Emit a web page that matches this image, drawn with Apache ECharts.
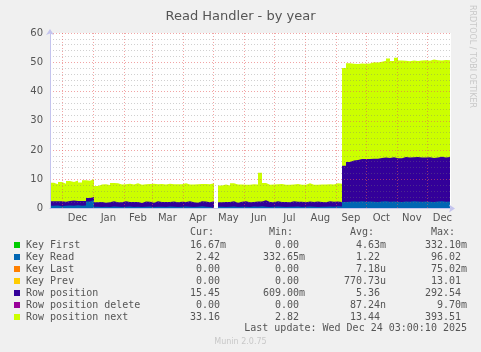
<!DOCTYPE html>
<html>
<head>
<meta charset="utf-8">
<title>Read Handler - by year</title>
<script src="https://cdn.jsdelivr.net/npm/echarts@6/dist/echarts.min.js"></script>
<style>
  html, body { margin: 0; padding: 0; background: #f0f0f0; }
  #chart { width: 481px; height: 352px; }
</style>
</head>
<body>
<div id="chart"></div>
<script>
// munin yearly graph: 400 days ending Wed Dec 24 03:00 2025, one sample every 4 days
var DAY = 86400000
var START = Date.UTC(2024, 10, 19, 3, 0, 0)
var STEP = 4

var monthNames = ['Jan', 'Feb', 'Mar', 'Apr', 'May', 'Jun', 'Jul', 'Aug', 'Sep', 'Oct', 'Nov', 'Dec']
var monthStarts = ['2024-12-01', '2025-01-01', '2025-02-01', '2025-03-01', '2025-04-01', '2025-05-01',
  '2025-06-01', '2025-07-01', '2025-08-01', '2025-09-01', '2025-10-01', '2025-11-01', '2025-12-01', '2026-01-01']
var yTicks = [0, 10, 20, 30, 40, 50, 60]

var keyRead = [
  0.9, 1.0, 0.8, 0.9, 1.0, 0.9, 1.1, 0.9, 1.0, 2.4, 2.9,
  0.6, 0.5, 0.6, 0.5, 0.7, 0.6, 0.5, 0.6, 0.7, 0.5, 0.6, 0.5, 0.6, 0.7, 0.5, 0.6, 0.6, 0.5, 0.7, 0.6,
  0.5, 0.6, 0.7, 0.6, 0.5, 0.6, 0.8, 0.6, 0.5, 0.6,
  null,
  0.6, 0.5, 0.6, 0.7, 0.5, 0.6, 0.6, 0.5, 0.7, 0.6, 0.8, 0.6, 0.5, 0.6, 0.7, 0.6, 0.5, 0.6, 0.6, 0.7,
  0.5, 0.6, 0.7, 0.6, 0.5, 0.6, 0.6, 0.7, 0.6, 0.8, 0.7,
  2.2, 2.3, 2.4, 2.3, 2.5, 2.3, 2.4, 2.3, 2.2, 2.4, 2.5, 2.3, 2.4, 2.3, 2.2, 2.4, 2.3, 2.5, 2.4, 2.3,
  2.4, 2.3, 2.2, 2.4, 2.5, 2.3, 2.4, 2.4
]
var rowPosition = [
  1.6, 1.5, 1.7, 1.4, 1.6, 1.8, 1.5, 1.7, 1.6, 1.2, 1.0,
  1.5, 1.7, 1.4, 1.6, 1.8, 1.5, 1.6, 1.9, 1.5, 1.7, 1.6, 1.4, 1.8, 1.6, 1.5, 1.9, 1.6, 1.7, 1.5, 1.8,
  1.6, 1.7, 1.5, 1.9, 1.6, 1.4, 1.7, 1.8, 1.6, 1.9,
  null,
  1.5, 1.7, 1.6, 1.8, 1.5, 1.7, 1.9, 1.6, 1.5, 1.8, 1.6, 2.2, 1.7, 1.5, 1.8, 1.6, 1.7, 1.5, 1.9, 1.6,
  1.8, 1.5, 1.7, 1.6, 1.9, 1.6, 1.5, 1.8, 1.7, 1.6, 1.5,
  12.4, 13.6, 14.0, 14.3, 14.4, 14.6, 14.5, 14.7, 14.8, 14.9, 14.9, 15.0, 15.1, 14.9, 15.0, 15.2, 15.1, 15.0, 15.2, 15.1,
  15.0, 15.2, 15.1, 15.0, 15.2, 15.1, 15.2, 15.0
]
var rowPositionNext = [
  6.3, 5.8, 6.6, 6.2, 6.8, 6.4, 7.0, 6.3, 7.1, 5.9, 6.1,
  5.6, 6.0, 6.3, 5.9, 6.2, 6.5, 6.1, 5.8, 6.3, 6.0, 6.4, 6.2, 5.9, 6.1, 6.5, 5.8, 6.2, 6.0, 6.3, 5.9,
  6.2, 6.0, 6.4, 5.7, 6.1, 6.3, 5.9, 6.0, 6.2, 6.1,
  null,
  5.8, 6.0, 5.7, 6.1, 6.2, 5.9, 5.6, 6.0, 6.1, 5.8, 9.8, 5.9, 5.9, 6.1, 5.8, 6.2, 5.9, 6.0, 5.7, 6.1,
  5.8, 6.0, 6.2, 5.9, 5.7, 6.0, 6.1, 5.8, 5.9, 6.2, 6.3,
  33.4, 33.8, 33.1, 32.8, 32.7, 32.6, 32.7, 33.0, 32.9, 32.9, 33.1, 34.0, 32.9, 34.3, 33.4, 32.9, 32.9, 33.1, 32.8, 33.2,
  33.3, 33.0, 33.6, 33.3, 32.9, 33.4, 33.1, 33.5
]

// legend table (rrdtool GPRINT values)
var legendNames = ['Key First', 'Key Read', 'Key Last', 'Key Prev', 'Row position', 'Row position delete', 'Row position next']
var legendColors = ['#00cc00', '#0066b3', '#ff8000', '#ffcc00', '#330099', '#990099', '#ccff00']
var statHeaders = ['Cur:', 'Min:', 'Avg:', 'Max:']
var curVals = ['16.67m', '2.42', '0.00', '0.00', '15.45', '0.00', '33.16']
var minVals = ['0.00', '332.65m', '0.00', '0.00', '609.00m', '0.00', '2.82']
var avgVals = ['4.63m', '1.22', '7.18u', '770.73u', '5.36', '87.24n', '13.44']
var maxVals = ['332.10m', '96.02', '75.02m', '13.01', '292.54', '9.70m', '393.51']

function dayOf(iso) {
  var p = iso.split('-')
  return (Date.UTC(+p[0], +p[1] - 1, +p[2]) - START) / DAY
}
var gridDays = monthStarts.map(dayOf)
var labelDays = gridDays.slice(0, -1).map(function(d, i) { return (d + gridDays[i + 1]) / 2 })

// stacking by hand: both axes are value axes, so each area is drawn from 0 to its running total
function stacked(layers) {
  return layers[0].map(function(v, i) {
    if (v === null) return [i * STEP, null]
    var sum = 0
    layers.forEach(function(l) { sum += l[i] })
    return [i * STEP, +sum.toFixed(2)]
  })
}
function fmt(s) { // %6.2lf%s
  var m = s.match(/^([\d.]+)([a-z]?)$/)
  return m[1].padStart(6) + (m[2] || ' ')
}

var MONO = '10px "DejaVu Sans Mono"'
var graphic = [
  { type: 'text', x: 472, y: 5, rotation: -Math.PI / 2, silent: true,
    style: { text: 'RRDTOOL / TOBI OETIKER', fill: '#c8c8c8', font: '8px "DejaVu Sans"', textVerticalAlign: 'middle' }}
]
var colX = [184, 263, 344, 425]
statHeaders.forEach(function(h, c) {
  graphic.push({ type: 'text', x: colX[c] + 6, y: 232,
    style: { text: h, fill: '#555', font: MONO, textVerticalAlign: 'middle' }})
})
legendNames.forEach(function(name, r) {
  var y = 245 + r * 12
  graphic.push({ type: 'rect', shape: { x: 14, y: y - 3, width: 6, height: 6 }, style: { fill: legendColors[r] }})
  graphic.push({ type: 'text', x: 26, y: y, style: { text: name, fill: '#555', font: MONO, textVerticalAlign: 'middle' }})
  ;[curVals, minVals, avgVals, maxVals].forEach(function(col, c) {
    graphic.push({ type: 'text', x: colX[c], y: y,
      style: { text: fmt(col[r]), fill: '#555', font: MONO, textVerticalAlign: 'middle' }})
  })
})
graphic.push({ type: 'text', x: 467, y: 328.5,
  style: { text: 'Last update: Wed Dec 24 03:00:10 2025', fill: '#555', font: MONO, textAlign: 'right', textVerticalAlign: 'middle' }})
graphic.push({ type: 'text', x: 240.5, y: 341.5,
  style: { text: 'Munin 2.0.75', fill: '#c8c8c8', font: '8px "DejaVu Sans"', textAlign: 'center', textVerticalAlign: 'middle' }})

function area(name, data, color) {
  return {
    name: name,
    type: 'line',
    step: 'end',
    symbol: 'none',
    data: data,
    itemStyle: { color: color },
    lineStyle: { width: 0 },
    areaStyle: { color: color, opacity: 1, origin: 'start' }
  }
}

var chart = echarts.init(document.getElementById('chart'))
chart.setOption({
  backgroundColor: '#f0f0f0',
  animation: false,
  title: {
    text: 'Read Handler - by year',
    left: 'center',
    top: 5,
    textStyle: { fontFamily: 'DejaVu Sans', fontSize: 13, fontWeight: 'normal', color: '#555' }
  },
  grid: { left: 50, top: 33, width: 401, height: 175.5, show: true, backgroundColor: '#fff', borderWidth: 0 },
  xAxis: {
    type: 'value',
    min: 0,
    max: 401,
    z: 10,
    axisLine: { lineStyle: { color: '#c4c4ee', width: 1 }, symbol: ['none', 'arrow'], symbolSize: [6, 6], symbolOffset: [0, 4] },
    axisTick: { show: false, customValues: gridDays.filter(function(d) { return d <= 401 }) },
    axisLabel: {
      customValues: labelDays.filter(function(d) { return d <= 401 }),
      formatter: function(v) { return monthNames[new Date(START + v * DAY).getUTCMonth()] },
      color: '#555', fontFamily: 'DejaVu Sans', fontSize: 10, margin: 5
    },
    splitLine: { show: true, lineStyle: { color: 'rgba(230,90,90,0.55)', type: [1, 2], width: 1 }}
  },
  yAxis: {
    type: 'value',
    min: yTicks[0],
    max: yTicks[yTicks.length - 1],
    interval: 10,
    z: 10,
    axisLine: { show: true, lineStyle: { color: '#c4c4ee', width: 1 }, symbol: ['none', 'arrow'], symbolSize: [6, 6], symbolOffset: [0, 4] },
    axisTick: { show: false },
    axisLabel: { color: '#555', fontFamily: 'DejaVu Sans', fontSize: 10, margin: 7 },
    splitLine: { lineStyle: { color: 'rgba(230,90,90,0.55)', type: [1, 2], width: 1 }},
    minorTick: { show: false, splitNumber: 5 },
    minorSplitLine: { show: true, lineStyle: { color: 'rgba(120,120,120,0.35)', type: [1, 2], width: 1 }}
  },
  graphic: graphic,
  // drawn back to front: full stack first, then the lower layers on top of it
  series: [
    area('Row position next', stacked([keyRead, rowPosition, rowPositionNext]), '#ccff00'),
    area('Row position', stacked([keyRead, rowPosition]), '#330099'),
    area('Key Read', stacked([keyRead]), '#0066b3')
  ]
})
</script>
</body>
</html>
